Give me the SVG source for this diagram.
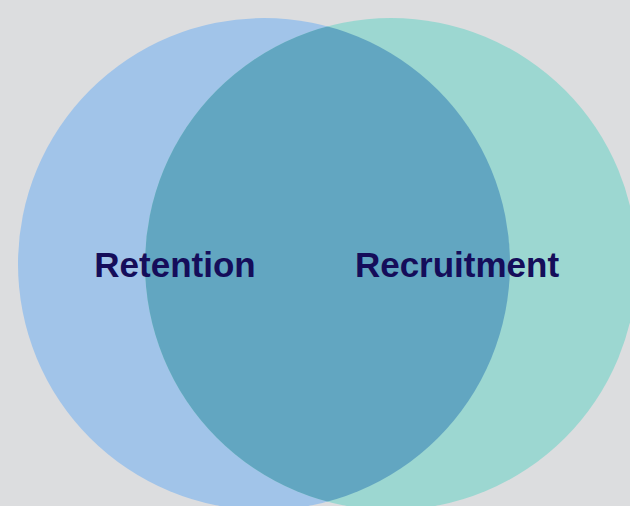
<svg xmlns="http://www.w3.org/2000/svg" width="630" height="506" viewBox="0 0 630 506">
  <style>
    .label { font-family: "Liberation Sans", Arial, sans-serif; font-weight: bold; font-size: 35px; fill: #150d5a; text-anchor: middle; }
  </style>
  <defs>
    <clipPath id="clip-left">
      <circle cx="264" cy="264" r="246"/>
    </clipPath>
  </defs>
  <rect width="630" height="506" fill="#dcdddf"/>
  <g id="retention">
    <circle cx="264" cy="264" r="246" fill="#a1c4e9"/>
  </g>
  <g id="recruitment">
    <circle cx="391" cy="264" r="246" fill="#9cd7d1"/>
  </g>
  <!-- shared area of the two circles -->
  <g id="overlap">
    <circle cx="391" cy="264" r="246" fill="#62a6c1" clip-path="url(#clip-left)"/>
  </g>
  <g id="labels">
    <text class="label" x="175" y="277">Retention</text>
    <text class="label" x="457" y="277">Recruitment</text>
  </g>
</svg>
